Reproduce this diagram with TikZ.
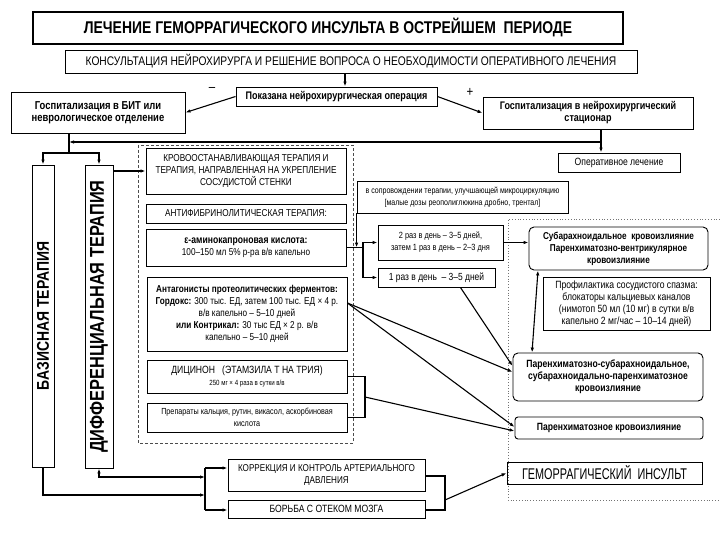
\documentclass[tikz,border=0pt]{standalone}
\usepackage{fontspec}
\setmainfont{Liberation Sans}
\newfontfamily\nr[FakeStretch=0.82]{Liberation Sans}
\newfontfamily\nrr[FakeStretch=0.7]{Liberation Sans}
\usetikzlibrary{arrows.meta}
\newcommand\fsz[1]{\fontsize{#1}{1.25\dimexpr#1pt\relax}\selectfont}
\begin{document}
\begin{tikzpicture}[x=1pt,y=-1pt,
  every node/.style={font=\nr},
  box/.style={draw, line width=0.9pt, inner sep=0pt, align=center},
  rbox/.style={box, rounded corners=5pt},
  con/.style={line width=1.1pt},
  arr/.style={con, -{Latex[length=5pt,width=3.5pt]}},
  darr/.style={con, {Latex[length=5pt,width=3.5pt]}-{Latex[length=5pt,width=3.5pt]}},
  dashbox/.style={draw=black!70, line width=0.6pt, dash pattern=on 3pt off 2pt},
  dotbox/.style={draw=black!55, line width=0.8pt, dotted}]
\useasboundingbox (0,0) rectangle (720,540);
% containers
\draw[dashbox] (138,145) rectangle (353,443);
\draw[dotbox] (720,219) -- (508,219) -- (508,500) -- (720,500);
% top
\node[box, line width=1.1pt, minimum width=590, minimum height=32] (title) at (328,28)
  {\fsz{17}\bfseries ЛЕЧЕНИЕ ГЕМОРРАГИЧЕСКОГО ИНСУЛЬТА В ОСТРЕЙШЕМ\ \ ПЕРИОДЕ};
\node[box, minimum width=572, minimum height=23] (consult) at (351,61.5)
  {\fsz{12.5}КОНСУЛЬТАЦИЯ НЕЙРОХИРУРГА И РЕШЕНИЕ ВОПРОСА О НЕОБХОДИМОСТИ ОПЕРАТИВНОГО ЛЕЧЕНИЯ};
\node[box, minimum width=201, minimum height=19] (pokaz) at (336.5,96.5)
  {\fsz{11}\bfseries Показана нейрохирургическая операция};
\node[box, minimum width=174, minimum height=41] (gospbit) at (98,112.5)
  {\fsz{11.5}\bfseries Госпитализация в БИТ или\\\fsz{11.5}\bfseries неврологическое отделение};
\node[box, minimum width=210, minimum height=32] (gospnh) at (588,113)
  {\fsz{11}\bfseries Госпитализация в нейрохирургический\\\fsz{11}\bfseries стационар};
\node[box, minimum width=122, minimum height=19] (operat) at (619,162.5)
  {\fsz{10.5}Оперативное лечение};
\node (minus) at (212,89) {\fsz{14}–};
\node (plus) at (470,92) {\fsz{14}+};
% vertical boxes
\node[box, minimum width=22, minimum height=302] (bazis) at (43,316) {};
\node[rotate=90] (bazisT) at (bazis.center) {\fsz{17}\bfseries БАЗИСНАЯ ТЕРАПИЯ};
\node[box, minimum width=28, minimum height=303] (diff) at (99,316.5) {};
\node[rotate=90] (diffT) at (diff.center) {\fsz{20}\bfseries ДИФФЕРЕНЦИАЛЬНАЯ ТЕРАПИЯ};
% middle column
\node[box, minimum width=200, minimum height=46] (krovo) at (246,171)
  {\fsz{10}КРОВООСТАНАВЛИВАЮЩАЯ ТЕРАПИЯ И\\\fsz{10}ТЕРАПИЯ, НАПРАВЛЕННАЯ НА УКРЕПЛЕНИЕ\\\fsz{10}СОСУДИСТОЙ СТЕНКИ};
\node[box, minimum width=200, minimum height=19] (antifib) at (246,213.5)
  {\fsz{10}АНТИФИБРИНОЛИТИЧЕСКАЯ ТЕРАПИЯ:};
\node[box, minimum width=200, minimum height=37] (eps) at (246,247.5)
  {\fsz{10.5}\bfseries ε-аминокапроновая кислота:\\\fsz{10}100–150 мл 5\% р-ра в/в капельно};
\node[box, minimum width=200, minimum height=74] (antag) at (247,314)
  {\fsz{10}\bfseries Антагонисты протеолитических ферментов:\\
   \fsz{10}\textbf{Гордокс:} 300 тыс. ЕД, затем 100 тыс. ЕД × 4 р.\\
   \fsz{10}в/в капельно – 5–10 дней\\
   \fsz{10}\textbf{или Контрикал:} 30 тыс ЕД × 2 р. в/в\\
   \fsz{10}капельно – 5–10 дней};
\node[box, minimum width=200, minimum height=33] (dicinon) at (247,376.5)
  {\fsz{10.5}ДИЦИНОН\ \ \ (ЭТАМЗИЛА Т НА ТРИЯ)\\\fsz{7.5}250 мг × 4 раза в сутки в/в};
\node[box, minimum width=200, minimum height=29] (prep) at (247,417.5)
  {\fsz{8.8}Препараты кальция, рутин, викасол, аскорбиновая\\\fsz{8.8}кислота};
% right of middle
\node[box, minimum width=211, minimum height=32] (soprov) at (462.5,197)
  {\fsz{8.6}в сопровождении терапии, улучшающей микроциркуляцию\\\fsz{8.6}[малые дозы реополиглюкина дробно, трентал]};
\node[box, minimum width=125, minimum height=35] (raz2) at (440.5,242.5)
  {\fsz{9}2 раз в день – 3–5 дней,\\\fsz{9}затем 1 раз в день – 2–3 дня};
\node[box, minimum width=117, minimum height=19] (raz1) at (436.5,277.5)
  {\fsz{10.3}1 раз в день \ – 3–5 дней};
% right column
\node[rbox, minimum width=179, minimum height=43] (subar) at (618.5,248.5)
  {\fsz{10}\bfseries Субарахноидальное\ \ кровоизлияние\\\fsz{10}\bfseries Паренхиматозно-вентрикулярное\\\fsz{10}\bfseries кровоизлияние};
\node[box, minimum width=167, minimum height=53] (profil) at (626.5,303.5)
  {\fsz{10.5}Профилактика сосудистого спазма:\\\fsz{10.5}блокаторы кальциевых каналов\\\fsz{10.5}(нимотоп 50 мл (10 мг) в сутки в/в\\\fsz{10.5}капельно 2 мг/час – 10–14 дней)};
\node[rbox, minimum width=190, minimum height=48] (parsub) at (608,377)
  {\fsz{10.5}\bfseries Паренхиматозно-субарахноидальное,\\\fsz{10.5}\bfseries субарахноидально-паренхиматозное\\\fsz{10.5}\bfseries кровоизлияние};
\node[rbox, rounded corners=3pt, minimum width=188, minimum height=22] (paren) at (609,428)
  {\fsz{10.5}\bfseries Паренхиматозное кровоизлияние};
\node[box, minimum width=195, minimum height=22] (gemorr) at (604.5,473)
  {\nrr\fsz{15.5}ГЕМОРРАГИЧЕСКИЙ\ \ ИНСУЛЬТ};
% bottom
\node[box, minimum width=197, minimum height=32] (korr) at (326.5,475)
  {\fsz{9.9}КОРРЕКЦИЯ И КОНТРОЛЬ АРТЕРИАЛЬНОГО\\\fsz{9.9}ДАВЛЕНИЯ};
\node[box, minimum width=197, minimum height=18] (borba) at (326.5,509)
  {\fsz{10.5}БОРЬБА С ОТЕКОМ МОЗГА};
% helper coordinates
\coordinate (x345) at (345,0);
\coordinate (x69) at (69,0);
\coordinate (x601) at (601,0);
\coordinate (jtop) at (69,153);
\coordinate (hy) at (0,142);
\coordinate (j2) at (363,247.5);
\coordinate (bkt) at (365,397);
\coordinate (bx) at (205,0);
\coordinate (rbx) at (445,0);
\coordinate (gj) at (445,500);
% connectors top
\draw[arr] (consult.south -| x345) -- (pokaz.north -| x345);
\draw[arr] (pokaz.west) -- (gospbit.east);
\draw[arr] (pokaz.east) -- (gospnh.west);
\draw[con] (gospbit.south -| x69) -- (jtop);
\draw[arr] (jtop) -| (bazis.north);
\draw[arr] (jtop) -| (diff.north);
\draw[arr] (gospnh.south -| x601) -- (operat.north -| x601);
\draw[arr] (x601 |- hy) -- (x69 |- hy);
\draw[arr] (diff.east |- krovo.west) -- (krovo.west);
% middle connectors
\draw[con] (eps.east) -- (j2);
\draw[arr] (j2) |- (raz2.west);
\draw[arr] (j2) |- (raz1.west);
\draw[arr] (soprov.south west) -- (soprov.south west |- eps.east);
\draw[arr] (raz2.east) -- (raz2.east -| subar.west);
\draw[arr] (raz1.south east) ++(-35,0) -- (parsub.west |- 0,366);
\draw[arr] (antag.east |- 0,303) -- (parsub.west |- 0,372);
\draw[arr] (antag.east |- 0,303) -- (paren.west |- 0,427);
\draw[con] (dicinon.east) -| (bkt) |- (prep.east);
\draw[arr] (bkt) -- (paren.west |- 0,431);
\draw[darr] (subar.south -| 538,0) -- (parsub.north -| 532,0);
% bottom connectors
\draw[arr] (bazis.south) |- (bx |- 0,495);
\draw[darr] (diff.south) |- (bx |- 0,477);
\draw[con] (bx |- 0,468) -- (bx |- 0,510);
\draw[arr] (bx |- 0,468) -- (korr.west |- 0,468);
\draw[arr] (bx |- 0,510) -- (borba.west |- 0,510);
\draw[con] (korr.east |- 0,476) -| (rbx |- 0,510) -- (borba.east |- 0,510);
\draw[arr] (gj) -- (gemorr.west);
\fill (bazis.south |- 0,495) circle (1.2pt);
\end{tikzpicture}
\end{document}
